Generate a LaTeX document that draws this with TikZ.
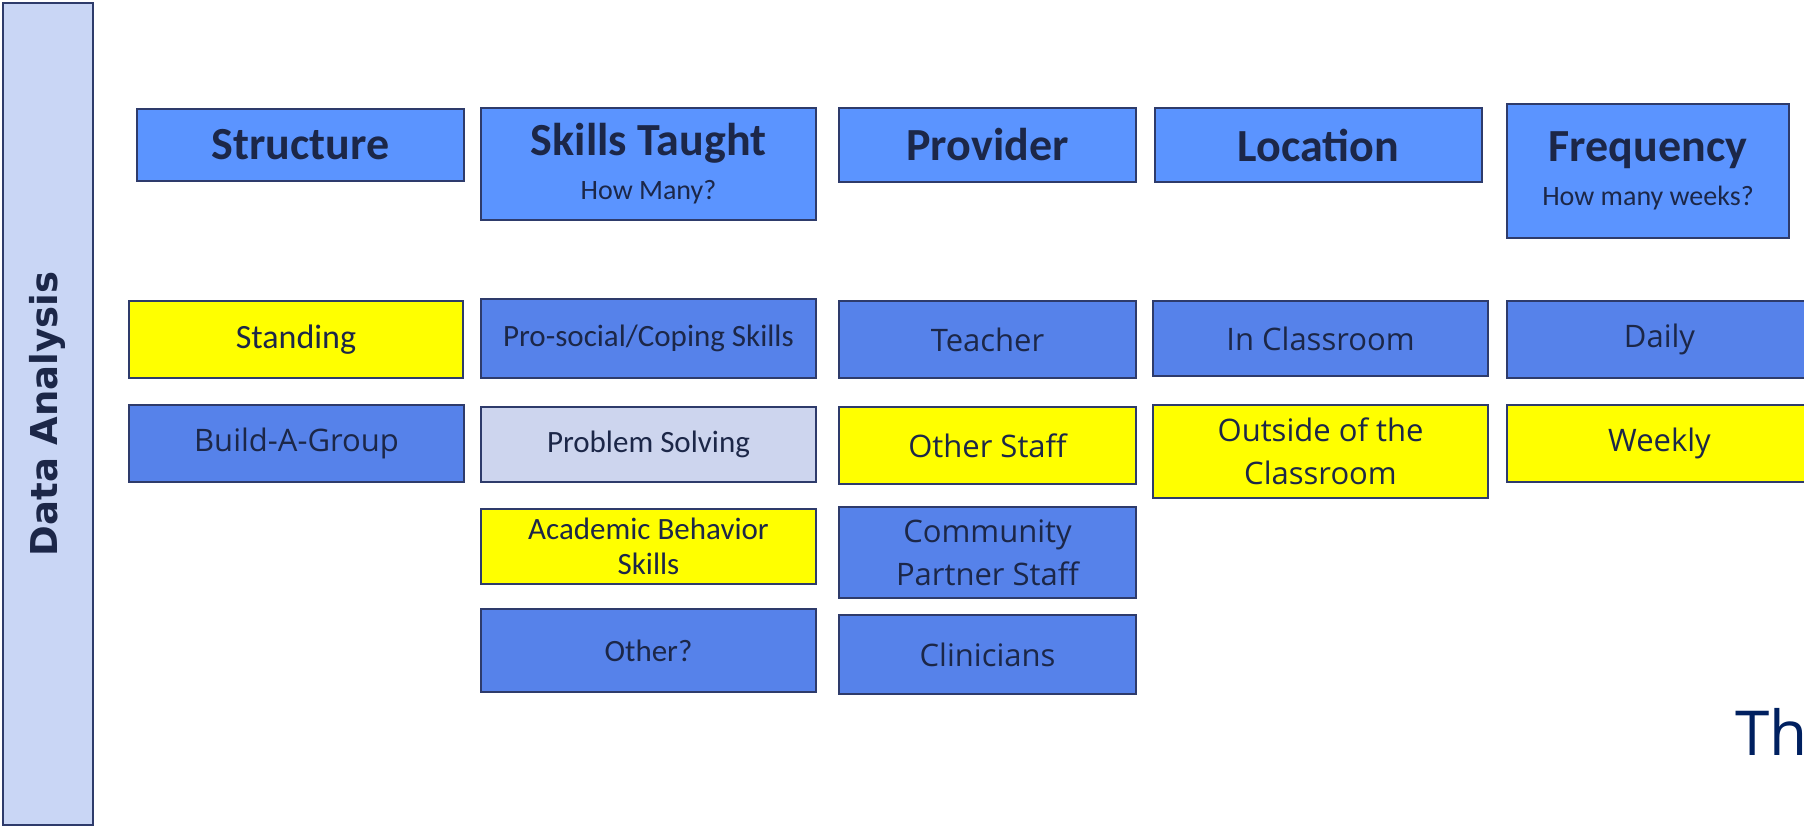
\documentclass[tikz,border=0pt]{standalone}
\usepackage{fontspec}
\setmainfont{Carlito}
\newfontfamily\osans{Open Sans}
\newfontfamily\dvsans{DejaVu Sans}
\definecolor{hdrblue}{HTML}{5B94FF}
\definecolor{itemblue}{HTML}{5682EA}
\definecolor{lightlav}{HTML}{CDD5EE}
\definecolor{barfill}{HTML}{C9D6F5}
\definecolor{ylw}{HTML}{FFFF00}
\definecolor{inktext}{HTML}{1C2748}
\definecolor{edge}{HTML}{2E3B6B}
\definecolor{navy}{HTML}{002060}
\newcommand\subfont{\fontsize{14}{17}\selectfont\mdseries}
\tikzset{
  box/.style={draw=edge, line width=1pt, inner sep=0pt, align=center, text=inktext},
  hdr/.style={box, fill=hdrblue, font=\fontsize{23}{26}\selectfont\bfseries},
  osf/.style={font=\osans\fontsize{15.5}{21.5}\selectfont},
  cbf/.style={font=\fontsize{15.5}{17.5}\selectfont},
  blueitem/.style={box, fill=itemblue},
  yellowitem/.style={box, fill=ylw},
  lightitem/.style={box, fill=lightlav},
}
\newcommand\bx[7]{\node[#6, minimum width={(#4-#2)*0.5pt}, minimum height={(#5-#3)*0.5pt}] (#1) at ({(#2+#4)/2},{(#3+#5)/2}) {#7};}
\begin{document}
\begin{tikzpicture}[x=0.5pt,y=-0.5pt]
\useasboundingbox (0,0) rectangle (1804,826);
\clip (0,0) rectangle (1804,826);
% side bar
\bx{bar}{3}{3}{93}{825}{box, fill=barfill}{}
\node[rotate=90, text=inktext, font=\dvsans\bfseries\fontsize{18.5}{20}\selectfont] (title) at (47,414) {Data Analysis};
% headers
\bx{structure}{137}{109}{464}{181}{hdr}{Structure}
\bx{skills}{481}{108}{816}{220}{hdr}{Skills Taught\\[-4pt]\subfont How Many?}
\bx{provider}{839}{108}{1136}{182}{hdr}{Provider}
\bx{location}{1155}{108}{1482}{182}{hdr}{Location}
\bx{frequency}{1507}{104}{1789}{238}{hdr}{Frequency\\[-4pt]\subfont How many weeks?}
% row 1
\bx{standing}{129}{301}{463}{378}{yellowitem, font=\fontsize{17}{20}\selectfont}{Standing}
\bx{prosocial}{481}{299}{816}{378}{blueitem, cbf}{Pro-social/Coping Skills}
\bx{teacher}{839}{301}{1136}{378}{blueitem, osf}{Teacher}
\bx{inclass}{1153}{301}{1488}{376}{blueitem, osf}{In Classroom}
\bx{daily}{1507}{301}{1812}{378}{blueitem, osf}{Daily}
% row 2
\bx{buildgroup}{129}{405}{464}{482}{blueitem, osf}{Build-A-Group}
\bx{problem}{481}{407}{816}{482}{lightitem, cbf}{Problem Solving}
\bx{otherstaff}{839}{407}{1136}{484}{yellowitem, osf}{Other Staff}
\bx{outside}{1153}{405}{1488}{498}{yellowitem, osf}{Outside of the\\Classroom}
\bx{weekly}{1507}{405}{1812}{482}{yellowitem, osf}{Weekly}
% row 3
\bx{academic}{481}{509}{816}{584}{yellowitem, cbf}{Academic Behavior\\Skills}
\bx{community}{839}{507}{1136}{598}{blueitem, osf}{Community\\Partner Staff}
% row 4
\bx{other}{481}{609}{816}{692}{blueitem, cbf}{Other?}
\bx{clinicians}{839}{615}{1136}{694}{blueitem, osf}{Clinicians}
% cut-off text
\node[anchor=base west, inner sep=0pt, text=navy, font=\osans\fontsize{31}{34}\selectfont] (the) at (1735,755) {The};
\end{tikzpicture}
\end{document}
